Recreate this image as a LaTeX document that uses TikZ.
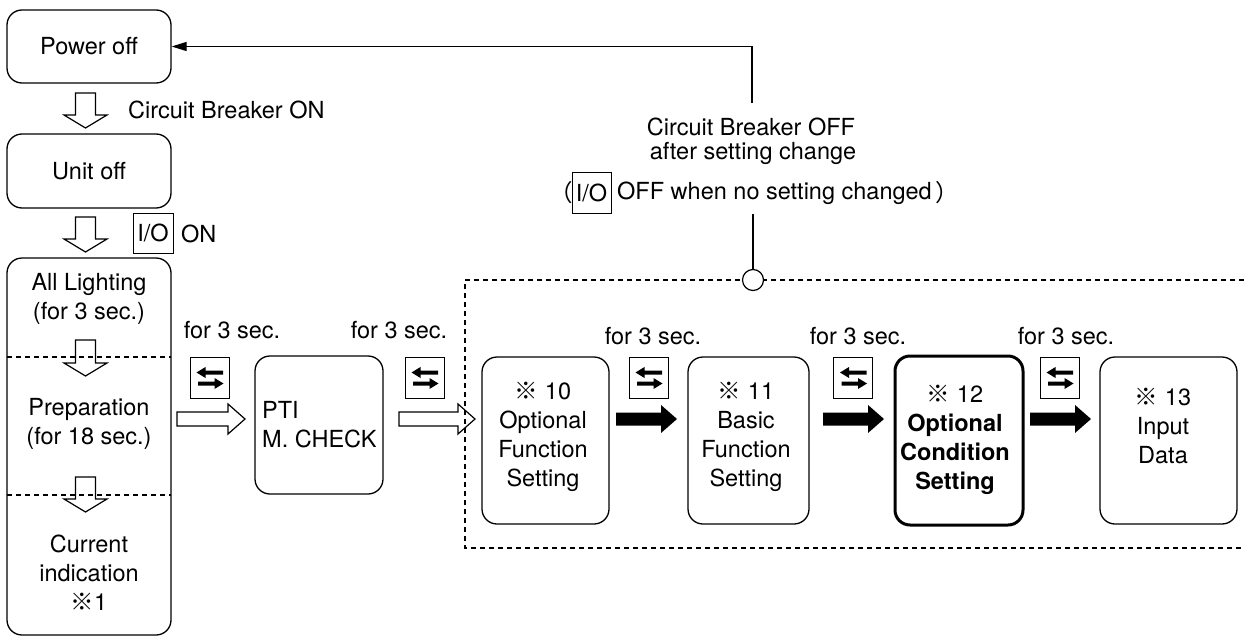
\documentclass[tikz,border=0pt]{standalone}
\usepackage{fontspec}
\setmainfont{TeX Gyre Heros}
\newfontfamily\cjk{Noto Sans CJK JP}
\usetikzlibrary{arrows.meta}
\newcommand\dgfs{\fontsize{23.5}{29}\selectfont}
\newcommand\kome{{\cjk ※}}
% hollow down arrow: x, ytop, ybottom
\newcommand\holD[3]{\draw[holl] (#1-10,#2) -- (#1+10,#2) -- (#1+10,#3-13) -- (#1+21.5,#3-13) -- (#1,#3) -- (#1-21.5,#3-13) -- (#1-10,#3-13) -- cycle;}
% hollow right arrow: xstart, xend, y
\newcommand\holR[3]{\draw[holl] (#1,#3-7) -- (#2-17,#3-7) -- (#2-17,#3-15) -- (#2,#3) -- (#2-17,#3+15) -- (#2-17,#3+7) -- (#1,#3+7) -- cycle;}
% black right arrow: xstart, xend, y
\newcommand\blkR[3]{\fill (#1,#3-6.5) -- (#2-16,#3-6.5) -- (#2-16,#3-14) -- (#2,#3) -- (#2-16,#3+14) -- (#2-16,#3+6.5) -- (#1,#3+6.5) -- cycle;}
% swap icon: name, cx
\newcommand\swapicon[2]{%
  \node[keybox, minimum width=39pt, minimum height=41pt] (#1) at (#2,377.5) {};
  \fill (#2+13.5,370.5) -- (#2-4,370.5) -- (#2-4,367) -- (#2-13,372.5) -- (#2-4,378) -- (#2-4,374.5) -- (#2+13.5,374.5) -- cycle;
  \fill (#2-11.5,381.5) -- (#2+5,381.5) -- (#2+5,378) -- (#2+14,383.5) -- (#2+5,389) -- (#2+5,385.5) -- (#2-11.5,385.5) -- cycle;}
\begin{document}
\begin{tikzpicture}[x=1pt,y=-1pt,
  every node/.style={font=\dgfs, inner sep=0pt},
  box/.style={draw, rounded corners=15pt, line width=1.3pt},
  keybox/.style={draw, line width=1pt},
  holl/.style={draw, line width=1.2pt, line join=miter},
  dsh/.style={line width=1.2pt, dash pattern=on 5pt off 4pt},
  lbl/.style={align=center},
]
\useasboundingbox (0,0) rectangle (1244,637);

% left column
\node[box, minimum width=164pt, minimum height=73pt] (power) at (89,46.5) {Power off};
\holD{85.5}{93}{128}
\node[anchor=west] (cbon) at (128,110) {Circuit Breaker ON};
\node[box, minimum width=164pt, minimum height=74pt] (unit) at (89,171) {Unit off};
\holD{85.5}{217}{252}
\node[keybox, minimum width=40pt, minimum height=40pt] (io1) at (153,233) {I/O};
\node[anchor=west] (on) at (181,234) {ON};
\node[box, minimum width=164pt, minimum height=377pt] (seq) at (89,446.5) {};
\draw[dsh] (7,357) -- (171,357);
\draw[dsh] (7,495) -- (171,495);
\node[lbl] (light) at (89,299) {All Lighting\\(for 3 sec.)};
\holD{85.5}{340}{376}
\node[lbl] (prep) at (89,424) {Preparation\\(for 18 sec.)};
\holD{85.5}{477}{512}
\node[lbl] (curr) at (89,573) {Current\\indication\\\kome1};

% PTI
\node (t1) at (232,330) {for 3 sec.};
\swapicon{s1}{209.5}
\holR{177}{245}{419}
\node[box, minimum width=128pt, minimum height=138pt] (pti) at (319,425) {};
\node[align=left, anchor=west] (ptit) at (262,425) {PTI\\M. CHECK};
\node (t2) at (399,330) {for 3 sec.};
\swapicon{s2}{424.5}
\holR{399}{475}{419}

% dashed region
\draw[dsh] (1244,280) -- (465,280) -- (465,548) -- (1244,548);

\node[box, minimum width=127pt, minimum height=167pt] (b10) at (545.5,440.5) {};
\node[lbl] (b10t) at (543,437) {\kome{} 10\\Optional\\Function\\Setting};
\node (t3) at (653,336) {for 3 sec.};
\swapicon{s3}{648.5}
\blkR{616}{677}{419}

\node[box, minimum width=121pt, minimum height=167pt] (b11) at (748.5,440.5) {};
\node[lbl] (b11t) at (746,437) {\kome{} 11\\Basic\\Function\\Setting};
\node (t4) at (858,336) {for 3 sec.};
\swapicon{s4}{853}
\blkR{823}{884}{419}

\node[box, line width=3pt, minimum width=128pt, minimum height=169pt] (b12) at (959,440.5) {};
\node[lbl] (b12t) at (955,440) {\kome{} 12\\\bfseries Optional\\\bfseries Condition\\\bfseries Setting};
\node (t5) at (1066,336) {for 3 sec.};
\swapicon{s5}{1059.5}
\blkR{1030}{1091}{419}

\node[box, minimum width=137pt, minimum height=167pt] (b13) at (1168.5,440.5) {};
\node[lbl] (b13t) at (1163,426) {\kome{} 13\\Input\\Data};

% return path
\node[circle, draw, fill=white, line width=1.2pt, minimum size=21pt] (junc) at (753,280) {};
\node (n1) at (751,127) {Circuit Breaker OFF};
\node (n2) at (753,153) {after setting change};
\node[anchor=east] (lp) at (573,193) {\cjk （};
\node[keybox, minimum width=39pt, minimum height=41pt] (io2) at (591.5,192.5) {I/O};
\node[anchor=west] (n3) at (617,193) {OFF when no setting changed};
\node[anchor=west] (rp) at (935,193) {\cjk ）};
\coordinate (nb) at (753,214);
\coordinate (nt) at (752,103);
\draw[line width=1.3pt] (junc.north) -- (nb);
\draw[line width=1.3pt, -{Triangle[length=15pt,width=9pt]}] (nt) |- (power.east);
\end{tikzpicture}
\end{document}
